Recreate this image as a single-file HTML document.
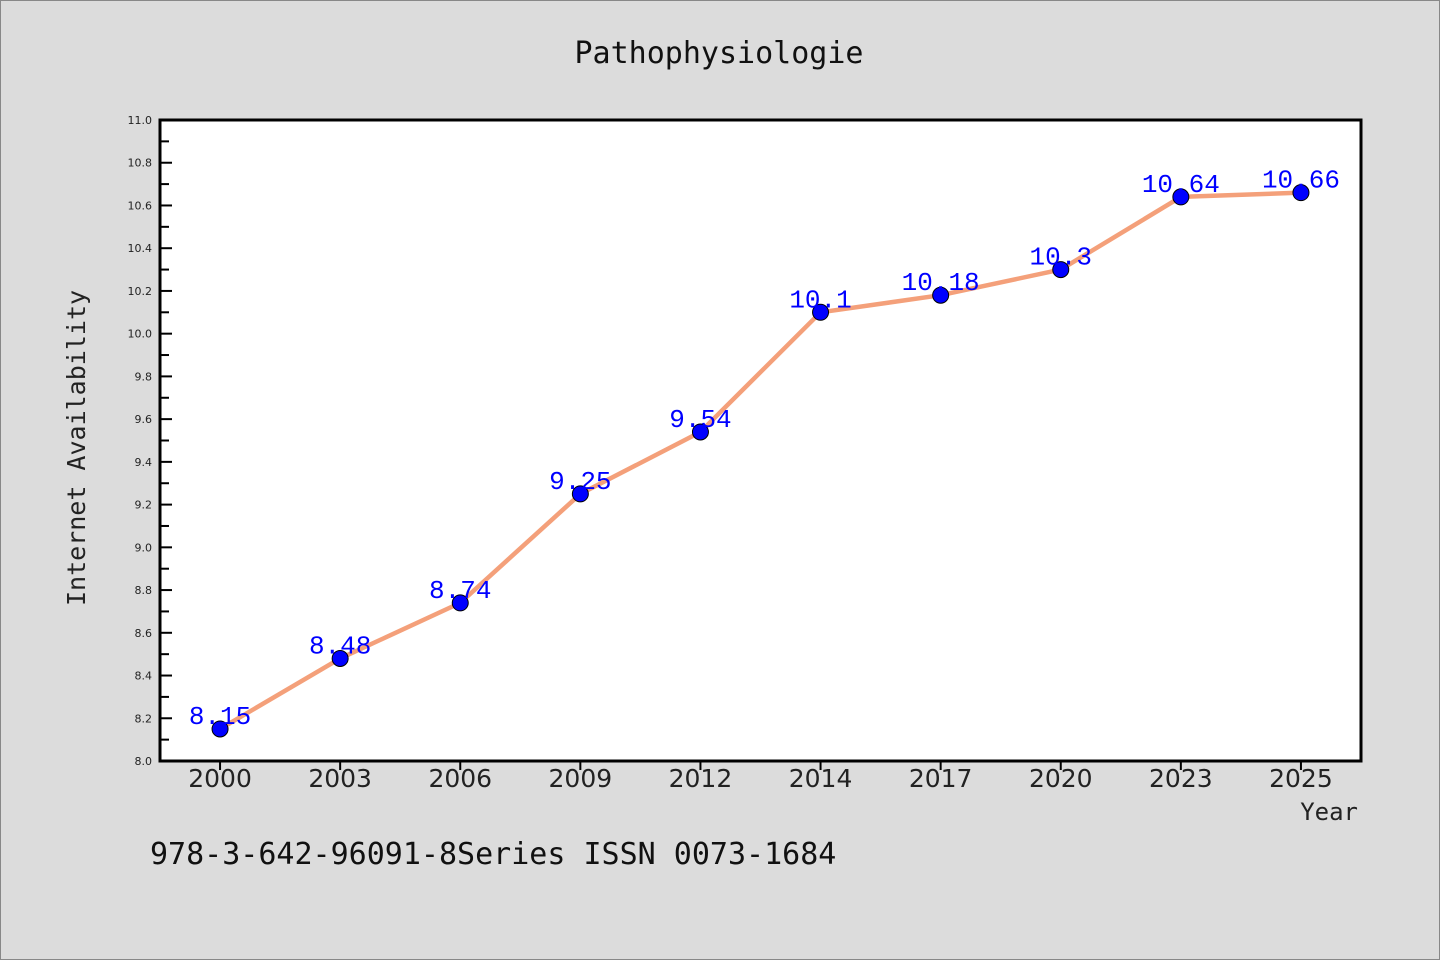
<!DOCTYPE html>
<html><head><meta charset="utf-8"><style>
body{margin:0;background:#dcdcdc;}
svg{display:block;font-family:"DejaVu Sans Mono","Liberation Mono",monospace;}
</style></head><body>
<svg id="c" width="1440" height="960">
<rect x="0.5" y="0.5" width="1439" height="959" fill="#dcdcdc" stroke="#888"/>
<text x="719" y="63" font-size="30" text-anchor="middle" fill="#111">Pathophysiologie</text>
<rect x="160" y="120" width="1201" height="641" fill="#fff"/>
<g id="grid"></g>
<g id="series"></g>
<rect x="160" y="120" width="1201" height="641" fill="none" stroke="#000" stroke-width="3"/>
<text transform="translate(85,448) rotate(-90)" font-size="25" text-anchor="middle" fill="#222">Internet Availability</text>
<text x="1358" y="820" font-size="24" text-anchor="end" fill="#222">Year</text>
<text x="150" y="864" font-size="30" fill="#111">978-3-642-96091-8Series ISSN 0073-1684</text>
</svg>
<script>
const categories=["2000","2003","2006","2009","2012","2014","2017","2020","2023","2025"];
const values=[8.15,8.48,8.74,9.25,9.54,10.1,10.18,10.3,10.64,10.66];
const valueLabels=["8.15","8.48","8.74","9.25","9.54","10.1","10.18","10.3","10.64","10.66"];
const yTicks=[8.0,8.2,8.4,8.6,8.8,9.0,9.2,9.4,9.6,9.8,10.0,10.2,10.4,10.6,10.8,11.0];
const NS="http://www.w3.org/2000/svg";
const L=160,R=1361,T=120,B=761,yMin=8,yMax=11;
const x=i=>L+(R-L)/categories.length*(i+0.5);
const y=v=>B-(v-yMin)/(yMax-yMin)*(B-T);
function mk(tag,attrs,parent){const e=document.createElementNS(NS,tag);for(const k in attrs)e.setAttribute(k,attrs[k]);parent.appendChild(e);return e;}
const g=document.getElementById('grid'),s=document.getElementById('series');
yTicks.forEach((v,i)=>{
 const yy=y(v);
 const t=mk('line',{x1:L,x2:L+12,y1:yy,y2:yy,stroke:'#000','stroke-width':2},g);
 
 
 const lb=mk('text',{x:L-8,y:yy+4,'font-size':11,'text-anchor':'end',fill:'#222','font-family':'DejaVu Sans,sans-serif'},g);
 lb.textContent=v.toFixed(1);
 
 
 if(i<yTicks.length-1){const m=y(v+0.1);
  const mt=mk('line',{x1:L,x2:L+9,y1:m,y2:m,stroke:'#000','stroke-width':2},g);
  
  }
});
categories.forEach((c,i)=>{
 const t=mk('line',{x1:x(i),x2:x(i),y1:B,y2:B+9,stroke:'#000','stroke-width':2},g);
 
 
 const lb=mk('text',{x:x(i),y:B+26,'font-size':25,'text-anchor':'middle',fill:'#222','font-family':'DejaVu Sans,sans-serif'},g);
 lb.textContent=c;
 
 
});
const pl=mk('polyline',{points:values.map((v,i)=>x(i)+','+y(v)).join(' '),fill:'none',stroke:'#f4a07a','stroke-width':4.5,'stroke-linejoin':'round'},s);


values.forEach((v,i)=>{
 const c=mk('circle',{cx:x(i),cy:y(v),r:8,fill:'#0000ff',stroke:'#000','stroke-width':1},s);
 
 
 const t=mk('text',{x:x(i),y:y(v)-5,'font-size':26,'text-anchor':'middle',fill:'#0000ff','font-family':'Liberation Mono,monospace'},s);
 t.textContent=valueLabels[i];
 
 
});
</script>
</body></html>
